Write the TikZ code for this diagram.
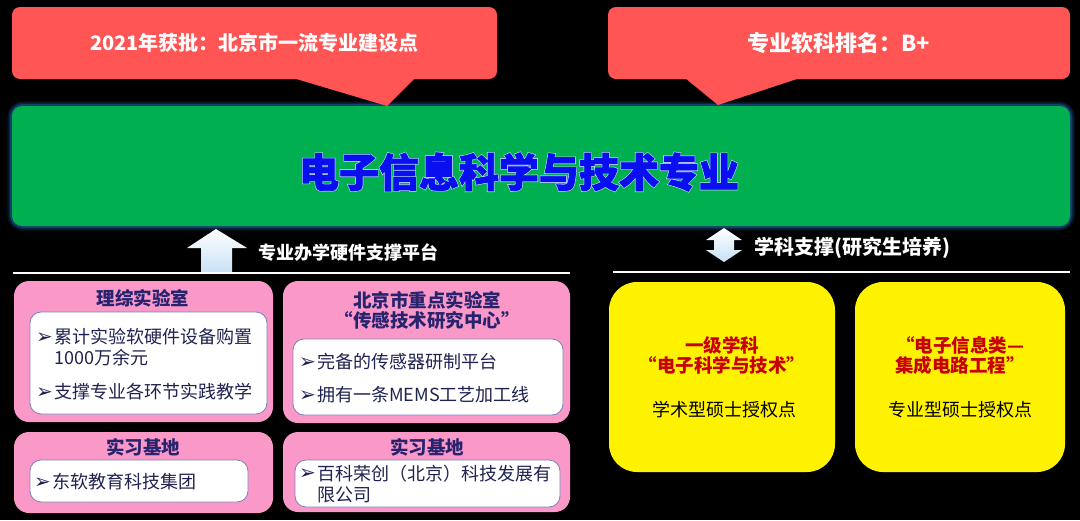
\documentclass[tikz,border=0pt]{standalone}
\usepackage{fontspec}
\setmainfont{Noto Sans CJK SC}
\newfontfamily\bulfont{DejaVu Sans}
\newfontfamily\titlefont{Noto Sans CJK SC}[BoldFeatures={FakeBold=2}]
\newfontfamily\halofont{Noto Sans CJK SC}[BoldFeatures={FakeBold=5}]
\definecolor{calred}{RGB}{255,85,85}
\definecolor{mgreen}{RGB}{0,176,80}
\definecolor{titleblue}{RGB}{10,15,240}
\definecolor{halo}{RGB}{190,220,250}
\definecolor{pinkc}{RGB}{250,152,200}
\definecolor{navy}{RGB}{40,35,110}
\definecolor{inktext}{RGB}{30,35,80}
\definecolor{inborder}{RGB}{120,130,190}
\definecolor{redtext}{RGB}{200,0,0}
\definecolor{glowc}{RGB}{40,120,200}
\definecolor{arrowlow}{RGB}{200,225,245}
\newcommand\mybul{\makebox[18pt][l]{\raisebox{0.5pt}{\bulfont\fontsize{20pt}{20pt}\selectfont ➢}}}
\newcommand\mybulsp{\hspace*{18pt}}
\newcommand\majortext{电子信息科学与技术专业}
\begin{document}
\begin{tikzpicture}[x=1pt,y=-1pt,
  callout/.style={fill=calred, rounded corners=8pt, minimum height=72pt, inner sep=0pt,
    text=white},
  pinkbox/.style={fill=pinkc, rounded corners=15pt, inner sep=0pt},
  whitebox/.style={fill=white, draw=inborder, line width=0.8pt, rounded corners=11pt, inner sep=0pt},
  yellowbox/.style={fill=yellow, rounded corners=28pt, inner sep=0pt, minimum height=190pt},
  boxtitle/.style={text=navy, inner sep=0pt, align=center, font=\fontsize{18.5pt}{20pt}\selectfont\bfseries},
  item/.style={text=inktext, inner sep=0pt, anchor=west, align=left, font=\fontsize{18pt}{21pt}\selectfont},
  redtitle/.style={text=redtext, inner sep=0pt, align=center, font=\fontsize{18.5pt}{20pt}\selectfont\bfseries},
  plain/.style={text=black, inner sep=0pt, font=\fontsize{18pt}{20pt}\selectfont},
  label/.style={text=white, inner sep=0pt, font=\bfseries},
  divider/.style={white, line width=1.5pt},
  blockarrow/.style={top color=white, bottom color=arrowlow, draw=none}
]
\useasboundingbox (0,0) rectangle (1080,520);
\fill[black] (0,0) rectangle (1080,520);

% glow of the main box
\foreach \w/\o in {10/0.12, 7/0.2, 4/0.35}
  \draw[glowc, line width=\w pt, opacity=\o, rounded corners=11pt] (12,106) rectangle (1070,226);
\node[fill=mgreen, rounded corners=10pt, minimum width=1058pt, minimum height=120pt, inner sep=0pt]
  (major) at (541,166) {};
\node[inner sep=0pt, font=\fontsize{40pt}{44pt}\selectfont]
  (majortitle) at (519,172) {\rlap{\color{halo}\halofont\bfseries\majortext}{\color{titleblue}\titlefont\bfseries\majortext}};

% callouts
\node[callout, minimum width=485pt, font=\fontsize{20pt}{22pt}\selectfont\bfseries] (callL) at (254.5,43) {2021年获批：北京市一流专业建设点};
\fill[calred] (293,78) -- (415,78) -- (387,106) -- cycle;
\node[callout, minimum width=462pt, font=\fontsize{22pt}{24pt}\selectfont\bfseries] (callR) at (839,43) {专业软科排名：B+};
\fill[calred] (685,78) -- (800,78) -- (718,105) -- cycle;

% left section header
\fill[blockarrow] (216,229) -- (247,248) -- (232,248) -- (232,272) -- (201,272) -- (201,248) -- (187,248) -- cycle;
\node[label, font=\fontsize{18pt}{20pt}\selectfont\bfseries] (hwlabel) at (348,253) {专业办学硬件支撑平台};
\draw[divider] (13,273) -- (570,273);

% right section header
\fill[blockarrow] (724,228) -- (742,240) -- (734,240) -- (734,250) -- (742,250) -- (724,262)
  -- (706,250) -- (714,250) -- (714,240) -- (706,240) -- cycle;
\node[label, font=\fontsize{20pt}{22pt}\selectfont\bfseries] (sublabel) at (852,248) {学科支撑(研究生培养)};
\draw[divider] (613,272) -- (1070,272);

% pink boxes
\node[pinkbox, minimum width=259pt, minimum height=141pt] (lab1) at (143.5,351.5) {};
\node[pinkbox, minimum width=287pt, minimum height=142pt] (lab2) at (426.5,352) {};
\node[pinkbox, minimum width=259pt, minimum height=81pt] (base1) at (143.5,472.5) {};
\node[pinkbox, minimum width=287pt, minimum height=80pt] (base2) at (426.5,472) {};

\node[boxtitle] (lab1t) at (143,298) {理综实验室};
\node[boxtitle] (lab2t) at (427,310) {北京市重点实验室\\“传感技术研究中心”};
\node[boxtitle] (base1t) at (143,447) {实习基地};
\node[boxtitle] (base2t) at (427,447) {实习基地};

\node[whitebox, minimum width=237pt, minimum height=102pt] (lab1in) at (148.5,363) {};
\node[whitebox, minimum width=270pt, minimum height=76pt] (lab2in) at (428,377) {};
\node[whitebox, minimum width=218pt, minimum height=42pt] (base1in) at (139,481) {};
\node[whitebox, minimum width=265pt, minimum height=47pt] (base2in) at (427.5,483.5) {};

\node[item] (i1) at (36,347.5) {\mybul 累计实验软硬件设备购置\\\mybulsp 1000万余元};
\node[item] (i2) at (36,392) {\mybul 支撑专业各环节实践教学};
\node[item] (i3) at (299,362) {\mybul 完备的传感器研制平台};
\node[item] (i4) at (299,395) {\mybul 拥有一条MEMS工艺加工线};
\node[item] (i5) at (34,482) {\mybul 东软教育科技集团};
\node[item] (i6) at (299,484) {\mybul 百科荣创（北京）科技发展有\\\mybulsp 限公司};

% yellow boxes
\node[yellowbox, minimum width=226pt] (yel1) at (722,377) {};
\node[yellowbox, minimum width=210pt] (yel2) at (960,377) {};
\node[redtitle] (yel1t) at (722,355) {一级学科\\“电子科学与技术”};
\node[plain] (yel1s) at (724,410) {学术型硕士授权点};
\node[redtitle] (yel2t) at (960,355) {“电子信息类—\\集成电路工程”};
\node[plain] (yel2s) at (960,410) {专业型硕士授权点};
\end{tikzpicture}
\end{document}
